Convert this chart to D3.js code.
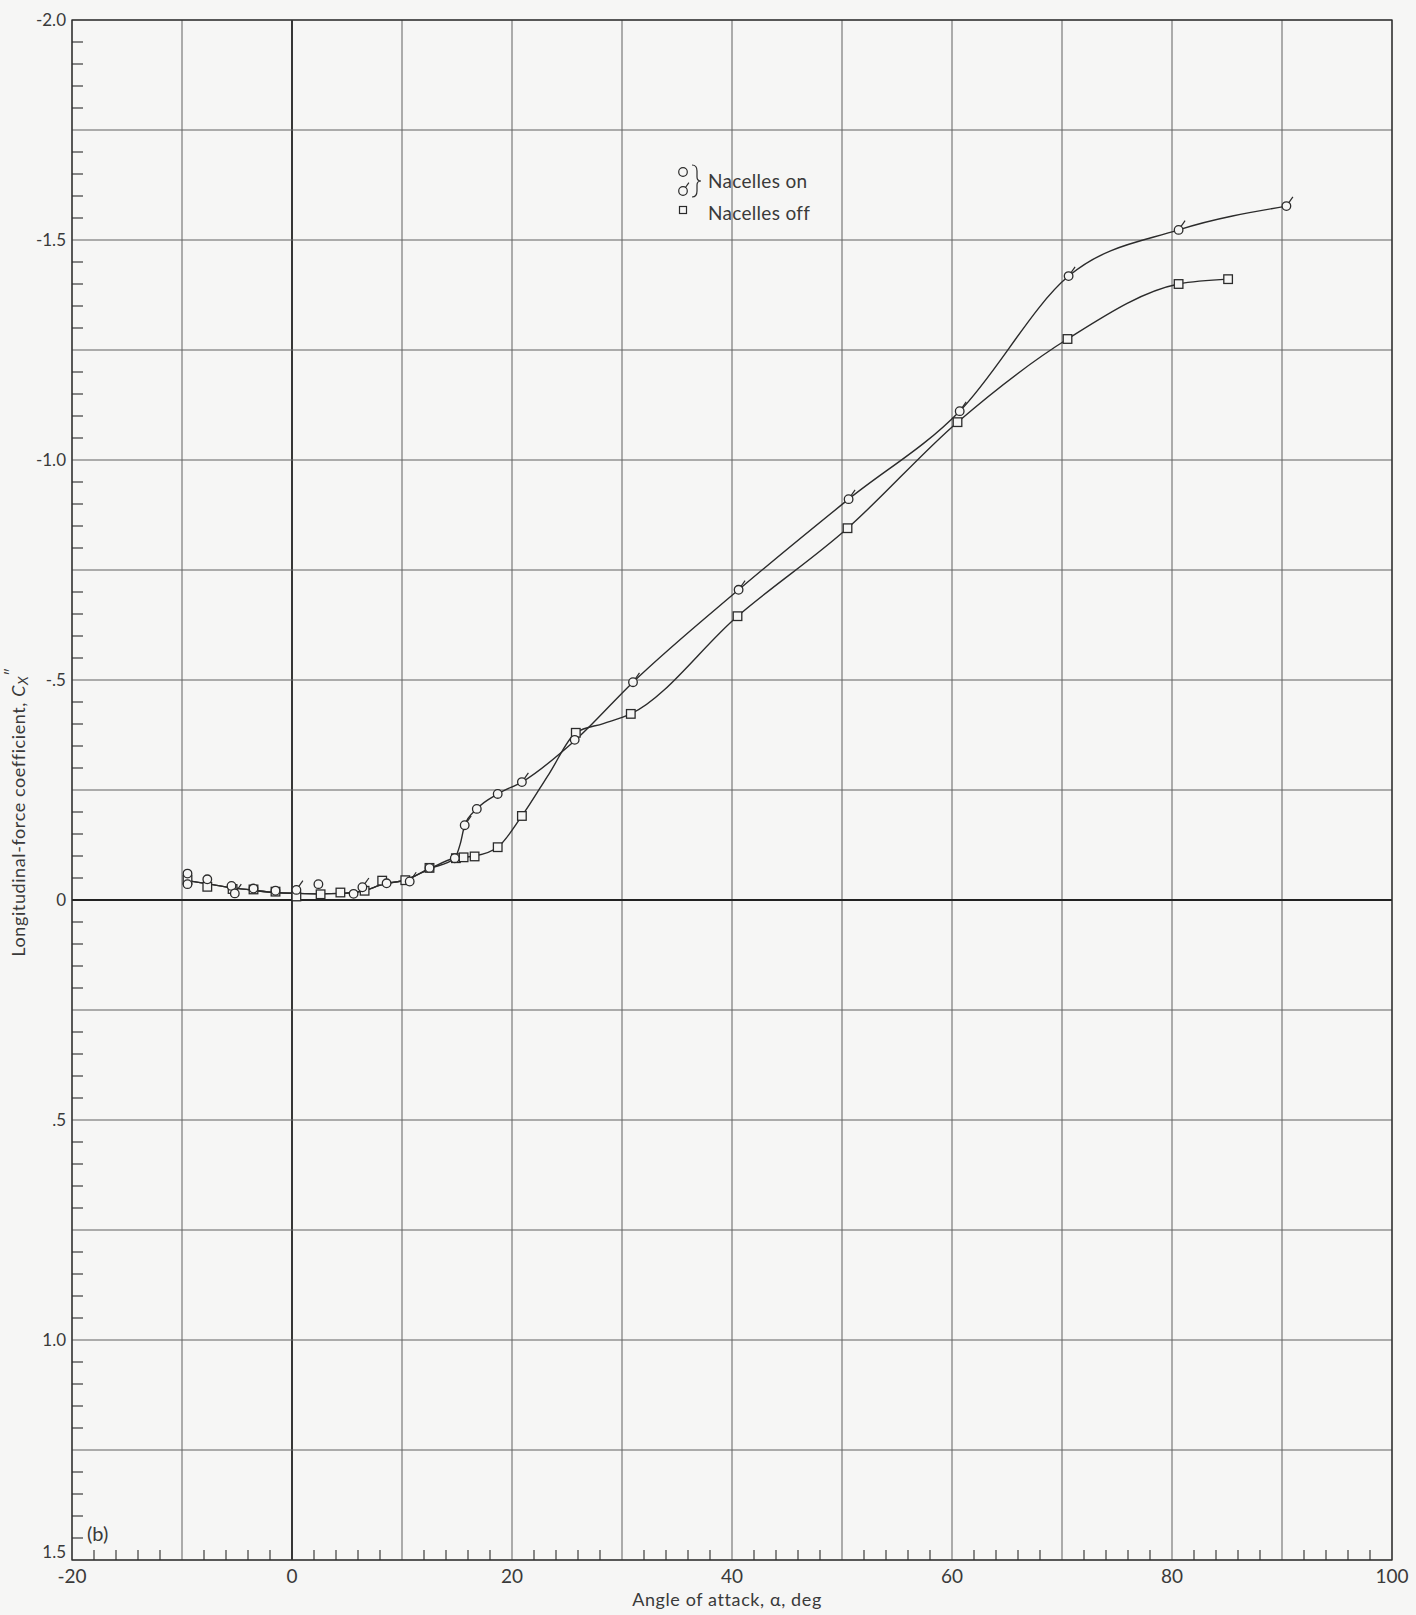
<!DOCTYPE html>
<html>
<head>
<meta charset="utf-8">
<script src="https://cdn.jsdelivr.net/npm/d3@7"></script>
<style>
  html, body { margin: 0; padding: 0; background: #f6f6f5; }
  svg { display: block; }
  text { font-family: Lato, "Open Sans", sans-serif; fill: #3a3a3a; }
</style>
</head>
<body>
<svg id="chart" width="1416" height="1615"></svg>
<script>
// ---------------- data ----------------
const X_DOMAIN = [-20, 100];
const Y_DOMAIN = [-2.0, 1.5];
const X_TICKS = [-20, 0, 20, 40, 60, 80, 100];
const X_TICK_LABELS = ["-20", "0", "20", "40", "60", "80", "100"];
const Y_TICKS = [-2.0, -1.5, -1.0, -0.5, 0, 0.5, 1.0, 1.5];
const Y_TICK_LABELS = ["-2.0", "-1.5", "-1.0", "-.5", "0", ".5", "1.0", "1.5"];
const X_GRID_STEP = 10, X_MINOR_STEP = 2;
const Y_GRID_STEP = 0.25, Y_MINOR_STEP = 0.05;

// Nacelles on: plain circles [alpha, Cx"]
const nacellesOnAlpha = [-9.5, -9.5, -7.7, -5.5, -3.5, -1.5, 2.4, 5.6, 8.6, 12.5, 14.8, 16.8, 18.7, 25.7];
const nacellesOnCx    = [-0.060, -0.036, -0.047, -0.032, -0.026, -0.021, -0.036, -0.014, -0.038, -0.073, -0.095, -0.207, -0.241, -0.364];
// Nacelles on: flagged circles
const nacellesOnFlagAlpha = [-5.2, 0.4, 6.4, 10.7, 15.7, 20.9, 31.0, 40.6, 50.6, 60.7, 70.6, 80.6, 90.4];
const nacellesOnFlagCx    = [-0.015, -0.023, -0.029, -0.042, -0.170, -0.268, -0.495, -0.705, -0.911, -1.111, -1.418, -1.523, -1.577];
// Nacelles off: squares
const nacellesOffAlpha = [-9.5, -7.7, -5.4, -3.5, -1.5, 0.4, 2.6, 4.4, 6.6, 8.2, 10.3, 12.5, 14.9, 15.6, 16.6, 18.7, 20.9, 25.8, 30.8, 40.5, 50.5, 60.5, 70.5, 80.6, 85.1];
const nacellesOffCx    = [-0.046, -0.030, -0.025, -0.024, -0.019, -0.008, -0.013, -0.017, -0.021, -0.044, -0.045, -0.073, -0.095, -0.097, -0.099, -0.120, -0.191, -0.380, -0.423, -0.645, -0.845, -1.086, -1.275, -1.400, -1.411];

// Faired curves drawn in the reference
const fairLowAlpha = [-9.5, -7.5, -5.5, -3.5, -1.5, 0.5, 2.5, 4.5, 6.5, 8.3, 10.4, 12.5, 14.8];
const fairLowCx    = [-0.044, -0.036, -0.028, -0.022, -0.017, -0.015, -0.014, -0.015, -0.021, -0.036, -0.046, -0.071, -0.095];
const fairOnAlpha  = [15.3, 15.7, 16.8, 18.7, 20.9, 25.7, 31.0, 40.6, 50.6, 60.7, 70.6, 80.6, 90.4];
const fairOnCx     = [-0.128, -0.170, -0.207, -0.241, -0.268, -0.362, -0.495, -0.705, -0.911, -1.111, -1.418, -1.523, -1.577];
const fairOffAlpha = [15.6, 16.6, 18.7, 20.9, 23.4, 25.8, 28.3, 30.8, 40.5, 50.5, 60.5, 70.5, 80.6, 85.1];
const fairOffCx    = [-0.097, -0.100, -0.120, -0.191, -0.288, -0.380, -0.401, -0.423, -0.645, -0.845, -1.086, -1.275, -1.400, -1.411];

const LEGEND_ON = "Nacelles on";
const LEGEND_OFF = "Nacelles off";
const X_TITLE = "Angle of attack, \u03b1, deg";
const PANEL_LABEL = "(b)";

// ---------------- drawing ----------------
const svg = d3.select("#chart");
const W = 1416, H = 1615;
const plot = { left: 72, right: 1392, top: 20, bottom: 1560 };
const x = d3.scaleLinear().domain(X_DOMAIN).range([plot.left, plot.right]);
const y = d3.scaleLinear().domain(Y_DOMAIN).range([plot.top, plot.bottom]);
const ink = "#2b2b2b", gridInk = "#606060", paper = "#f6f6f5";

svg.append("rect").attr("width", W).attr("height", H).attr("fill", paper);

const g = svg.append("g");

// grid
const xGrid = d3.range(X_DOMAIN[0], X_DOMAIN[1] + 0.001, X_GRID_STEP);
const yGrid = d3.range(Y_DOMAIN[0], Y_DOMAIN[1] + 0.001, Y_GRID_STEP);
g.selectAll(".vgrid").data(xGrid).join("line")
  .attr("x1", d => x(d)).attr("x2", d => x(d))
  .attr("y1", plot.top).attr("y2", plot.bottom)
  .attr("stroke", d => Math.abs(d) < 1e-9 ? "#222" : gridInk)
  .attr("stroke-width", d => Math.abs(d) < 1e-9 ? 1.8 : 1);
g.selectAll(".hgrid").data(yGrid).join("line")
  .attr("y1", d => y(d)).attr("y2", d => y(d))
  .attr("x1", plot.left).attr("x2", plot.right)
  .attr("stroke", d => Math.abs(d) < 1e-9 ? "#222" : gridInk)
  .attr("stroke-width", d => Math.abs(d) < 1e-9 ? 1.8 : 1);

// minor ticks
const xMinor = d3.range(X_DOMAIN[0], X_DOMAIN[1] + 0.001, X_MINOR_STEP)
  .filter(v => Math.abs(v / X_GRID_STEP - Math.round(v / X_GRID_STEP)) > 1e-6);
const yMinor = d3.range(0, Math.round((Y_DOMAIN[1] - Y_DOMAIN[0]) / Y_MINOR_STEP) + 1)
  .map(i => Y_DOMAIN[0] + i * Y_MINOR_STEP)
  .filter(v => Math.abs(v / Y_GRID_STEP - Math.round(v / Y_GRID_STEP)) > 1e-6);
g.selectAll(".xminor").data(xMinor).join("line")
  .attr("x1", d => x(d)).attr("x2", d => x(d))
  .attr("y1", plot.bottom).attr("y2", plot.bottom - 10)
  .attr("stroke", ink).attr("stroke-width", 1.1);
g.selectAll(".yminor").data(yMinor).join("line")
  .attr("y1", d => y(d)).attr("y2", d => y(d))
  .attr("x1", plot.left).attr("x2", plot.left + 11)
  .attr("stroke", ink).attr("stroke-width", 1.1);

// frame
g.append("rect").attr("x", plot.left).attr("y", plot.top)
  .attr("width", plot.right - plot.left).attr("height", plot.bottom - plot.top)
  .attr("fill", "none").attr("stroke", ink).attr("stroke-width", 1.3);

// tick labels
g.selectAll(".xlab").data(X_TICKS).join("text")
  .attr("x", d => x(d)).attr("y", plot.bottom + 23)
  .attr("text-anchor", "middle").attr("font-size", 19)
  .text((d, i) => X_TICK_LABELS[i]);
g.selectAll(".ylab").data(Y_TICKS).join("text")
  .attr("x", plot.left - 6).attr("y", (d, i) => y(d) + (i === Y_TICKS.length - 1 ? -2 : 6))
  .attr("text-anchor", "end").attr("font-size", 17)
  .text((d, i) => Y_TICK_LABELS[i]);

// axis titles
svg.append("text").attr("x", 727).attr("y", 1606)
  .attr("text-anchor", "middle").attr("font-size", 18).attr("letter-spacing", 0.6).text(X_TITLE);
const yt = svg.append("text")
  .attr("transform", "translate(25,812) rotate(-90)")
  .attr("text-anchor", "middle").attr("font-size", 18).attr("letter-spacing", 0.6);
yt.append("tspan").text("Longitudinal-force coefficient, ");
yt.append("tspan").attr("font-style", "italic").text("C");
yt.append("tspan").attr("font-style", "italic").attr("font-size", 14).attr("dy", 3).text("X");
yt.append("tspan").attr("dy", -11).attr("font-size", 15).text("\u2033");

svg.append("text").attr("x", 87).attr("y", 1541).attr("font-size", 20).text(PANEL_LABEL);

// faired curves
const line = d3.line().x(d => x(d[0])).y(d => y(d[1])).curve(d3.curveMonotoneX);
const zip = (a, b) => a.map((v, i) => [v, b[i]]);
const lowPts = zip(fairLowAlpha, fairLowCx);
const onCurve = lowPts.concat(zip(fairOnAlpha, fairOnCx));
const offCurve = lowPts.concat(zip(fairOffAlpha, fairOffCx));
g.append("path").attr("d", line(onCurve)).attr("fill", "none").attr("stroke", ink).attr("stroke-width", 1.4);
g.append("path").attr("d", line(offCurve)).attr("fill", "none").attr("stroke", ink).attr("stroke-width", 1.4);

// markers
const R = 4.3, S = 8.6;
const sq = zip(nacellesOffAlpha, nacellesOffCx);
g.selectAll(".sq").data(sq).join("rect")
  .attr("x", d => x(d[0]) - S / 2).attr("y", d => y(d[1]) - S / 2)
  .attr("width", S).attr("height", S)
  .attr("fill", paper).attr("stroke", ink).attr("stroke-width", 1.3);
const circ = zip(nacellesOnAlpha, nacellesOnCx);
g.selectAll(".ci").data(circ).join("circle")
  .attr("cx", d => x(d[0])).attr("cy", d => y(d[1])).attr("r", R)
  .attr("fill", paper).attr("stroke", ink).attr("stroke-width", 1.3);
const circF = zip(nacellesOnFlagAlpha, nacellesOnFlagCx);
const fl = g.selectAll(".cf").data(circF).join("g");
fl.append("circle")
  .attr("cx", d => x(d[0])).attr("cy", d => y(d[1])).attr("r", R)
  .attr("fill", paper).attr("stroke", ink).attr("stroke-width", 1.3);
const ang = -55 * Math.PI / 180;
fl.append("line")
  .attr("x1", d => x(d[0]) + R * Math.cos(ang)).attr("y1", d => y(d[1]) + R * Math.sin(ang))
  .attr("x2", d => x(d[0]) + (R + 7) * Math.cos(ang)).attr("y2", d => y(d[1]) + (R + 7) * Math.sin(ang))
  .attr("stroke", ink).attr("stroke-width", 1.2);

// legend
const lg = svg.append("g");
const lx = 683;
lg.append("circle").attr("cx", lx).attr("cy", 172).attr("r", R)
  .attr("fill", paper).attr("stroke", ink).attr("stroke-width", 1.2);
lg.append("circle").attr("cx", lx).attr("cy", 191).attr("r", R)
  .attr("fill", paper).attr("stroke", ink).attr("stroke-width", 1.2);
lg.append("line")
  .attr("x1", lx + R * Math.cos(ang)).attr("y1", 191 + R * Math.sin(ang))
  .attr("x2", lx + (R + 6) * Math.cos(ang)).attr("y2", 191 + (R + 6) * Math.sin(ang))
  .attr("stroke", ink).attr("stroke-width", 1.2);
lg.append("path")
  .attr("d", "M692,165 Q697,165 697,171 L697,177 Q697,181 701,181 Q697,181 697,185 L697,191 Q697,197 692,197")
  .attr("fill", "none").attr("stroke", ink).attr("stroke-width", 1.2);
lg.append("text").attr("x", 708).attr("y", 188).attr("font-size", 19).attr("letter-spacing", 0.3).text(LEGEND_ON);
lg.append("rect").attr("x", lx - 3.5).attr("y", 210 - 3.5).attr("width", 7).attr("height", 7)
  .attr("fill", paper).attr("stroke", ink).attr("stroke-width", 1.2);
lg.append("text").attr("x", 708).attr("y", 220).attr("font-size", 19).attr("letter-spacing", 0.3).text(LEGEND_OFF);
</script>
</body>
</html>
